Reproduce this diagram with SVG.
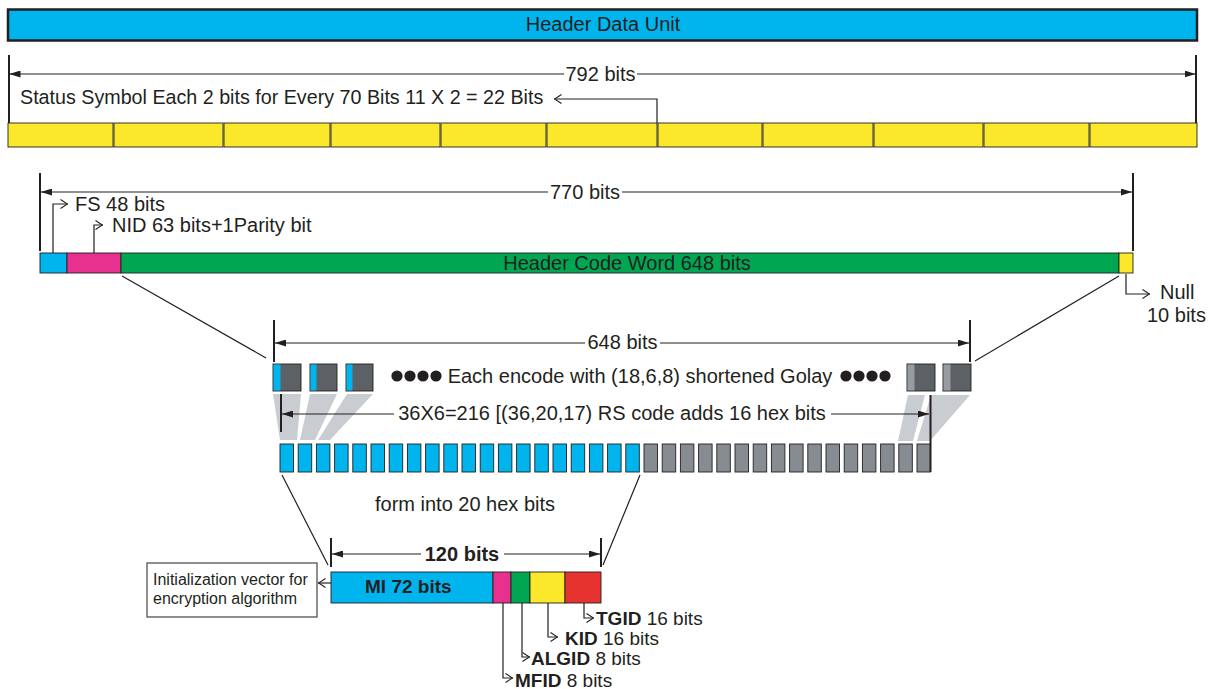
<svg xmlns="http://www.w3.org/2000/svg" width="1215" height="689" viewBox="0 0 1215 689">
<defs>
<style>
.t{font-family:"Liberation Sans",Arial,sans-serif;font-size:20px;fill:#231f20}
.b{font-weight:bold}
.s{font-size:16px}
.f{font-size:19px}
.ln{stroke:#231f20;stroke-width:1.2;fill:none}
.tk{stroke:#231f20;stroke-width:2;fill:none}
.bx{stroke:#231f20;stroke-width:0.9}
.blue{fill:#00b5ee}.mag{fill:#e8318e}.grn{fill:#00a651}.yel{fill:#fbe82a}.red{fill:#e6332f}
.dk{fill:#5b6164}.lg{fill:#979ca1}.gr{fill:#868c92}.fan{fill:#c9ccd1}
</style>
<marker id="fa" viewBox="0 0 11 7" refX="11" refY="3.5" markerWidth="11" markerHeight="7" markerUnits="userSpaceOnUse" orient="auto"><path d="M0,0 L11,3.5 L0,7 z" fill="#231f20"/></marker>
<marker id="oa" viewBox="0 0 8 10" refX="8" refY="5" markerWidth="8" markerHeight="10" markerUnits="userSpaceOnUse" orient="auto"><path d="M0.5,0.5 L7.5,5 L0.5,9.5" fill="none" stroke="#231f20" stroke-width="1.1"/></marker>
</defs>
<rect width="1215" height="689" fill="#fff"/>

<g id="header-data-unit">
<rect x="8" y="9.5" width="1189" height="31" class="blue" stroke="#231f20" stroke-width="2.5"/>
<text class="t" x="603" y="31" text-anchor="middle">Header Data Unit</text>
</g>

<g id="status-bar">
<rect x="8" y="123" width="105" height="24" class="yel bx" stroke-width="1.6"/>
<rect x="114" y="123" width="109" height="24" class="yel bx" stroke-width="1.6"/>
<rect x="224" y="123" width="106" height="24" class="yel bx" stroke-width="1.6"/>
<rect x="331" y="123" width="109" height="24" class="yel bx" stroke-width="1.6"/>
<rect x="441" y="123" width="105" height="24" class="yel bx" stroke-width="1.6"/>
<rect x="547" y="123" width="110" height="24" class="yel bx" stroke-width="1.6"/>
<rect x="658" y="123" width="104" height="24" class="yel bx" stroke-width="1.6"/>
<rect x="763" y="123" width="110" height="24" class="yel bx" stroke-width="1.6"/>
<rect x="874" y="123" width="109" height="24" class="yel bx" stroke-width="1.6"/>
<rect x="984" y="123" width="105" height="24" class="yel bx" stroke-width="1.6"/>
<rect x="1090" y="123" width="107" height="24" class="yel bx" stroke-width="1.6"/>
<text class="t" x="20" y="104" style="font-size:19.7px">Status Symbol Each 2 bits for Every 70 Bits 11 X 2 = 22 Bits</text>
</g>

<g id="header-code-word">
<rect x="40" y="253" width="27" height="20" class="blue bx"/>
<rect x="67" y="253" width="54" height="20" class="mag bx"/>
<rect x="121" y="253" width="998" height="20" class="grn bx"/>
<rect x="1119" y="253" width="14" height="20" class="yel bx"/>
<text class="t" x="627" y="270" text-anchor="middle">Header Code Word 648 bits</text>
<text class="t" x="75" y="211">FS 48 bits</text>
<text class="t" x="112" y="232">NID 63 bits+1Parity bit</text>
<text class="t" x="1160" y="299">Null</text>
<text class="t" x="1147" y="322">10 bits</text>
</g>

<g id="golay-blocks">
<rect x="273" y="364" width="28" height="27" class="dk bx"/><rect x="273.5" y="364.5" width="7" height="26" class="blue"/>
<rect x="310" y="364" width="27" height="27" class="dk bx"/><rect x="310.5" y="364.5" width="6" height="26" class="blue"/>
<rect x="346" y="364" width="27" height="27" class="dk bx"/><rect x="346.5" y="364.5" width="6" height="26" class="blue"/>
<rect x="907" y="364" width="28" height="27" class="dk bx"/><rect x="907.5" y="364.5" width="7" height="26" class="lg"/>
<rect x="943" y="364" width="28" height="27" class="dk bx"/><rect x="943.5" y="364.5" width="7" height="26" class="lg"/>
<circle cx="397" cy="376" r="5.6" fill="#231f20"/><circle cx="410" cy="376" r="5.6" fill="#231f20"/><circle cx="423" cy="376" r="5.6" fill="#231f20"/><circle cx="436" cy="376" r="5.6" fill="#231f20"/>
<circle cx="846" cy="376" r="5.6" fill="#231f20"/><circle cx="859" cy="376" r="5.6" fill="#231f20"/><circle cx="872" cy="376" r="5.6" fill="#231f20"/><circle cx="885" cy="376" r="5.6" fill="#231f20"/>
<text class="t" x="640" y="383" text-anchor="middle">Each encode with (18,6,8) shortened Golay</text>
<polygon class="fan" points="273,394 301,394 297,440 280,440"/>
<polygon class="fan" points="310,394 337,394 315,440 300,440"/>
<polygon class="fan" points="347,394 373,394 330,440 318,440"/>
<polygon class="fan" points="908,395 925,395 913,441 898,441"/>
<polygon class="fan" points="931,395 970,395 930,441 917,441"/>
</g>

<g id="hex-symbols">
<rect x="280" y="444" width="13.5" height="28" class="blue bx"/>
<rect x="298.2" y="444" width="13.5" height="28" class="blue bx"/>
<rect x="316.4" y="444" width="13.5" height="28" class="blue bx"/>
<rect x="334.6" y="444" width="13.5" height="28" class="blue bx"/>
<rect x="352.8" y="444" width="13.5" height="28" class="blue bx"/>
<rect x="371" y="444" width="13.5" height="28" class="blue bx"/>
<rect x="389.2" y="444" width="13.5" height="28" class="blue bx"/>
<rect x="407.4" y="444" width="13.5" height="28" class="blue bx"/>
<rect x="425.6" y="444" width="13.5" height="28" class="blue bx"/>
<rect x="443.8" y="444" width="13.5" height="28" class="blue bx"/>
<rect x="462" y="444" width="13.5" height="28" class="blue bx"/>
<rect x="480.2" y="444" width="13.5" height="28" class="blue bx"/>
<rect x="498.4" y="444" width="13.5" height="28" class="blue bx"/>
<rect x="516.6" y="444" width="13.5" height="28" class="blue bx"/>
<rect x="534.8" y="444" width="13.5" height="28" class="blue bx"/>
<rect x="553" y="444" width="13.5" height="28" class="blue bx"/>
<rect x="571.2" y="444" width="13.5" height="28" class="blue bx"/>
<rect x="589.4" y="444" width="13.5" height="28" class="blue bx"/>
<rect x="607.6" y="444" width="13.5" height="28" class="blue bx"/>
<rect x="625.8" y="444" width="13.5" height="28" class="blue bx"/>
<rect x="644" y="444" width="13.5" height="28" class="gr bx"/>
<rect x="662.2" y="444" width="13.5" height="28" class="gr bx"/>
<rect x="680.4" y="444" width="13.5" height="28" class="gr bx"/>
<rect x="698.6" y="444" width="13.5" height="28" class="gr bx"/>
<rect x="716.8" y="444" width="13.5" height="28" class="gr bx"/>
<rect x="735" y="444" width="13.5" height="28" class="gr bx"/>
<rect x="753.2" y="444" width="13.5" height="28" class="gr bx"/>
<rect x="771.4" y="444" width="13.5" height="28" class="gr bx"/>
<rect x="789.6" y="444" width="13.5" height="28" class="gr bx"/>
<rect x="807.8" y="444" width="13.5" height="28" class="gr bx"/>
<rect x="826" y="444" width="13.5" height="28" class="gr bx"/>
<rect x="844.2" y="444" width="13.5" height="28" class="gr bx"/>
<rect x="862.4" y="444" width="13.5" height="28" class="gr bx"/>
<rect x="880.6" y="444" width="13.5" height="28" class="gr bx"/>
<rect x="898.8" y="444" width="13.5" height="28" class="gr bx"/>
<rect x="917" y="444" width="13.5" height="28" class="gr bx"/>
<text class="t" x="612" y="420" text-anchor="middle">36X6=216 [(36,20,17) RS code adds 16 hex bits</text>
<text class="t" x="465" y="511" text-anchor="middle">form into 20 hex bits</text>
</g>

<g id="mi-fields">
<rect x="331" y="572" width="162" height="31" class="blue bx"/>
<rect x="493" y="572" width="18" height="31" class="mag bx"/>
<rect x="511" y="572" width="19" height="31" class="grn bx"/>
<rect x="530" y="572" width="35" height="31" class="yel bx"/>
<rect x="565" y="572" width="36" height="31" class="red bx"/>
<text class="t b f" x="365" y="593">MI 72 bits</text>
<text class="t b" x="462" y="561" text-anchor="middle">120 bits</text>
<text class="t f" x="596" y="625"><tspan class="b">TGID</tspan> 16 bits</text>
<text class="t f" x="565" y="645"><tspan class="b">KID</tspan> 16 bits</text>
<text class="t f" x="531" y="665"><tspan class="b">ALGID</tspan> 8 bits</text>
<text class="t f" x="515" y="687"><tspan class="b">MFID</tspan> 8 bits</text>
</g>

<g id="iv-box">
<rect x="147" y="563" width="170" height="54" fill="#fff" stroke="#444" stroke-width="1.2"/>
<text class="t s" x="153" y="585">Initialization vector for</text>
<text class="t s" x="153" y="604">encryption algorithm</text>
</g>

<g id="connectors">
<path class="tk" d="M9,55 V123 M1196,55 V123" stroke-width="1.6"/>
<path class="ln" d="M564,74 H9.5" marker-end="url(#fa)"/>
<path class="ln" d="M637,74 H1195.5" marker-end="url(#fa)"/>
<text class="t" x="600.5" y="81" text-anchor="middle">792 bits</text>
<path class="ln" d="M657,123 V99 H554" marker-end="url(#oa)"/>
<path class="tk" d="M40,173 V251 M1133,173 V251"/>
<path class="ln" d="M548,192 H41" marker-end="url(#fa)"/>
<path class="ln" d="M622,192 H1132" marker-end="url(#fa)"/>
<text class="t" x="585" y="199" text-anchor="middle">770 bits</text>
<path class="ln" d="M53,253 V204 H68" marker-end="url(#oa)"/>
<path class="ln" d="M94,253 V225 H103" marker-end="url(#oa)"/>
<path class="ln" d="M1126,274 V294 H1150" marker-end="url(#oa)"/>
<path class="ln" d="M122,276 L266,358 M1119,276 L975,361"/>
<path class="tk" d="M274,320 V362 M970,320 V362"/>
<path class="ln" d="M585,343 H275" marker-end="url(#fa)"/>
<path class="ln" d="M660,343 H969" marker-end="url(#fa)"/>
<text class="t" x="622.5" y="349" text-anchor="middle">648 bits</text>
<path class="tk" d="M281,394 V432 M930.5,395 V472" stroke-width="1.6"/>
<path class="ln" d="M394,414 H282" marker-end="url(#fa)"/>
<path class="ln" d="M831,414 H929" marker-end="url(#fa)"/>
<path class="ln" d="M282,475 L328,565 M640,475 L603,565"/>
<path class="tk" d="M331,538 V567 M601,538 V567" stroke-width="1.4"/>
<path class="ln" d="M421,554 H332" marker-end="url(#fa)"/>
<path class="ln" d="M504,554 H600" marker-end="url(#fa)"/>
<path class="ln" d="M331,583 H318" marker-end="url(#oa)"/>
<path class="ln" d="M584,603 V618 H594" marker-end="url(#oa)"/>
<path class="ln" d="M548,603 V637 H558" marker-end="url(#oa)"/>
<path class="ln" d="M522,603 V657 H530" marker-end="url(#oa)"/>
<path class="ln" d="M503,603 V678 H513" marker-end="url(#oa)"/>
</g>
</svg>
